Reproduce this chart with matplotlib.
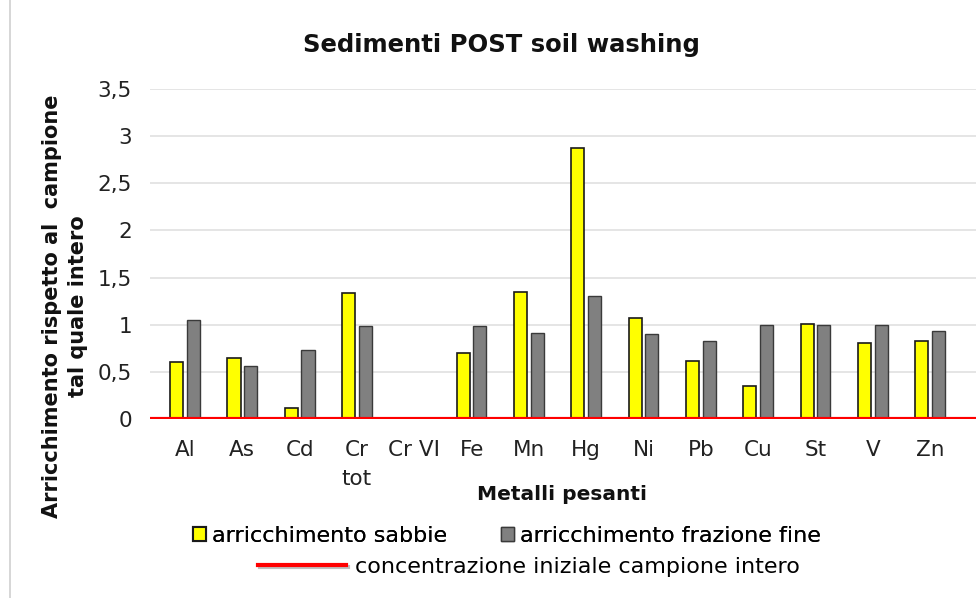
import matplotlib
matplotlib.use("Agg")
from matplotlib import pyplot as plt
from matplotlib.patches import Patch, Rectangle
from matplotlib.lines import Line2D
import matplotlib.patheffects as pe
import numpy as np

metalli = ["Al", "As", "Cd", "Cr\ntot", "Cr VI", "Fe", "Mn", "Hg", "Ni", "Pb", "Cu", "St", "V", "Zn"]
sabbie = [0.60, 0.65, 0.12, 1.34, 0, 0.70, 1.35, 2.87, 1.07, 0.61, 0.35, 1.01, 0.81, 0.83]
frazione_fine = [1.05, 0.56, 0.73, 0.99, 0, 0.99, 0.915, 1.30, 0.90, 0.83, 1.00, 1.00, 1.00, 0.93]
y_ticks = [0, 0.5, 1, 1.5, 2, 2.5, 3, 3.5]
y_tick_labels = ["0", "0,5", "1", "1,5", "2", "2,5", "3", "3,5"]

fig = plt.figure(figsize=(9.76, 5.98), dpi=100)
# cornice grigia dell'area grafico
fig.patches.append(Rectangle((10 / 976, -0.01), 1.0, 1.02, transform=fig.transFigure,
                             fill=False, edgecolor="#d0d0d0", lw=1.2))

ax = fig.add_axes([150 / 976, 179 / 598, 826 / 976, 330 / 598])
x = np.arange(len(metalli))
w = 0.23
off = 0.145
ax.bar(x - off, sabbie, w, color="#ffff00", edgecolor="#1a1a1a", lw=1.2, zorder=3)
ax.bar(x + off, frazione_fine, w, color="#808080", edgecolor="#3a3a3a", lw=1.0, zorder=3)
ax.axhline(0, color="red", lw=3, zorder=4,
           path_effects=[pe.SimpleLineShadow(offset=(1, -1.5), alpha=0.25), pe.Normal()])

ax.set_xlim(-0.61, 13.8)
ax.set_ylim(0, 3.5)
ax.set_yticks(y_ticks)
ax.set_yticklabels(y_tick_labels)
ax.set_xticks(x)
ax.set_xticklabels(metalli, linespacing=1.55)
ax.tick_params(axis="both", length=0, colors="#222222")
ax.tick_params(axis="x", pad=15, labelsize=15.5)
ax.tick_params(axis="y", pad=13, labelsize=15.5)
ax.yaxis.grid(True, color="#e3e3e3", lw=1.3, zorder=0)
for s in ax.spines.values():
    s.set_visible(False)

fig.text(501 / 976, 1 - 45 / 598, "Sedimenti POST soil washing", ha="center", va="center",
         fontsize=17.5, fontweight="bold", color="#111111")
fig.text(562 / 976, 1 - 495 / 598, "Metalli pesanti", ha="center", va="center",
         fontsize=14.5, fontweight="bold", color="#111111")
fig.text(65 / 976, 1 - 306 / 598, "Arricchimento rispetto al  campione\ntal quale intero",
         ha="center", va="center", rotation=90, fontsize=15, fontweight="bold",
         color="#111111", linespacing=1.4)

h1 = [Patch(facecolor="#ffff00", edgecolor="#1a1a1a", lw=1.5, label="arricchimento sabbie"),
      Patch(facecolor="#808080", edgecolor="#3a3a3a", lw=1.0, label="arricchimento frazione fine")]
leg1 = fig.legend(handles=h1, loc="center", bbox_to_anchor=(507 / 976, 1 - 536 / 598), ncol=2,
                  frameon=False, fontsize=16, handlelength=0.6, handleheight=0.6,
                  handletextpad=0.27, columnspacing=2.4, borderpad=0.2)
h2 = [Line2D([0], [0], color="red", lw=3, label="concentrazione iniziale campione intero",
             path_effects=[pe.SimpleLineShadow(offset=(1, -1.5), alpha=0.25), pe.Normal()])]
fig.legend(handles=h2, loc="center", bbox_to_anchor=(529 / 976, 1 - 567 / 598),
           frameon=False, fontsize=16, handlelength=3.96, handletextpad=0.4, borderpad=0.2)
fig.add_artist(leg1)

fig.savefig("out.png", dpi=100)
